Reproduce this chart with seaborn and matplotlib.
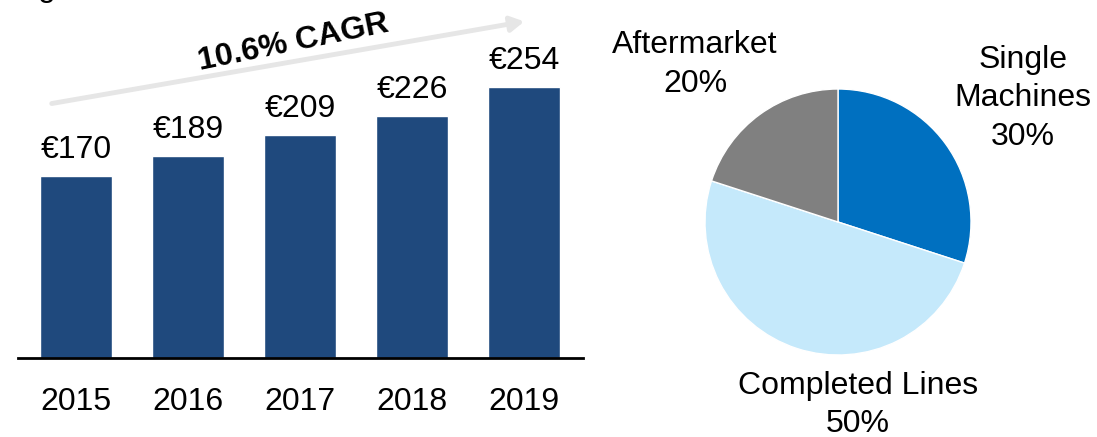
import matplotlib
matplotlib.use("Agg")
import matplotlib.pyplot as plt
import seaborn as sns

# --------------------------------
# DATA
# --------------------------------
years = ["2015", "2016", "2017", "2018", "2019"]
revenue = [170, 189, 209, 226, 254]
bar_labels = ["€170", "€189", "€209", "€226", "€254"]

segments = ["Single\nMachines", "Completed Lines", "Aftermarket"]
shares = [30, 50, 20]
segment_colors = ["#0070C0", "#C5E9FB", "#808080"]

cagr_text = "10.6% CAGR"

sns.set_style("white")
plt.rcParams["font.family"] = ["Liberation Sans", "DejaVu Sans"]
plt.rcParams["text.color"] = "black"
plt.rcParams["xtick.color"] = "black"

W, H = 1097, 437
fig = plt.figure(figsize=(W / 100, H / 100), dpi=100)

# --------------------------------
# BAR CHART
# --------------------------------
ax = fig.add_axes([18 / W, (H - 358) / H, 565 / W, 358 / H])

sns.barplot(
    x=years,
    y=revenue,
    color="#1F497D",
    width=0.65,
    saturation=1,
    ax=ax
)

ax.set_xlim(-0.518, 4.527)
ax.set_ylim(0, 335)

for i, (v, lab) in enumerate(zip(revenue, bar_labels)):
    ax.annotate(
        lab,
        (i, v),
        xytext=(0, 13),
        textcoords="offset points",
        ha="center",
        va="baseline",
        fontsize=23,
        color="black"
    )

for s in ["top", "right", "left"]:
    ax.spines[s].set_visible(False)
ax.spines["bottom"].set_color("black")
ax.spines["bottom"].set_linewidth(2)
ax.set_yticks([])
ax.tick_params(axis="x", length=0, pad=21, labelsize=23, labelcolor="black")
ax.set_xlabel("")
ax.set_ylabel("")

# growth arrow
ax.annotate(
    "",
    xy=(527 / W, 1 - 21 / H),
    xytext=(49 / W, 1 - 104 / H),
    xycoords="figure fraction",
    textcoords="figure fraction",
    arrowprops=dict(
        arrowstyle="-|>,head_length=0.8,head_width=0.45",
        color="#E6E6E6",
        lw=3.5
    )
)

fig.text(
    293 / W,
    1 - 43 / H,
    cagr_text,
    rotation=11.5,
    rotation_mode="anchor",
    ha="center",
    va="center",
    fontsize=23,
    fontweight="bold",
    color="black"
)

# cut-off heading fragment
fig.text(38 / W, (H + 4) / H, "g", fontsize=23, va="baseline", color="black")

# --------------------------------
# PIE CHART
# --------------------------------
pax = fig.add_axes([600 / W, 0, 497 / W, 1])
pax.pie(
    shares,
    colors=segment_colors,
    startangle=90,
    counterclock=False,
    radius=1,
    wedgeprops=dict(edgecolor="white", linewidth=1)
)
pax.set_aspect("auto")
pax.set_xlim((600 - 838) / 133, (1097 - 838) / 133)
pax.set_ylim((0 - 215) / 133, (437 - 215) / 133)
pax.axis("off")

label_pos = [(1.391, 0.93), (0.150, -1.375), (-1.075, 1.185)]
for name, share, (lx, ly) in zip(segments, shares, label_pos):
    pax.text(
        lx,
        ly,
        f"{name}\n{share}%",
        ha="center",
        va="center",
        fontsize=23,
        linespacing=1.36,
        color="black"
    )

fig.savefig("out.png", dpi=100)
